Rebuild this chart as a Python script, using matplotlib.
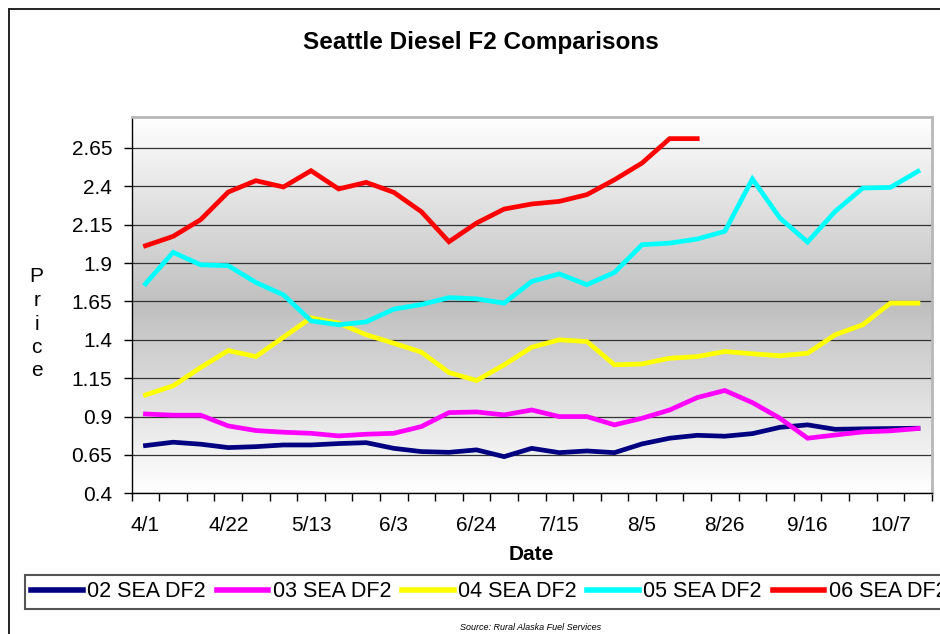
import numpy as np
import matplotlib.pyplot as plt
from matplotlib.patches import Rectangle

plt.rcParams['font.family'] = ['Liberation Sans', 'DejaVu Sans']

# weekly dates (category axis)
dates = ['4/1', '4/8', '4/15', '4/22', '4/29', '5/6', '5/13', '5/20', '5/27', '6/3',
         '6/10', '6/17', '6/24', '7/1', '7/8', '7/15', '7/22', '7/29', '8/5', '8/12',
         '8/19', '8/26', '9/2', '9/9', '9/16', '9/23', '9/30', '10/7', '10/14']

sea02 = [0.711, 0.733, 0.720, 0.698, 0.704, 0.715, 0.715, 0.724, 0.730, 0.693,
         0.672, 0.667, 0.683, 0.639, 0.693, 0.665, 0.676, 0.665, 0.722, 0.759,
         0.778, 0.772, 0.789, 0.830, 0.846, 0.817, 0.820, 0.822, 0.824]
sea03 = [0.917, 0.909, 0.909, 0.839, 0.809, 0.798, 0.791, 0.774, 0.785, 0.791,
         0.835, 0.926, 0.930, 0.911, 0.943, 0.900, 0.900, 0.846, 0.889, 0.943,
         1.024, 1.070, 0.991, 0.889, 0.759, 0.780, 0.800, 0.807, 0.822]
sea04 = [1.041, 1.100, 1.220, 1.330, 1.291, 1.417, 1.543, 1.509, 1.433, 1.378,
         1.320, 1.187, 1.135, 1.237, 1.352, 1.400, 1.389, 1.237, 1.243, 1.280,
         1.291, 1.324, 1.309, 1.296, 1.313, 1.433, 1.498, 1.639, 1.639]
sea05 = [1.765, 1.970, 1.889, 1.883, 1.774, 1.693, 1.524, 1.498, 1.517, 1.600,
         1.630, 1.675, 1.667, 1.639, 1.780, 1.830, 1.759, 1.839, 2.020, 2.030,
         2.057, 2.107, 2.448, 2.193, 2.037, 2.237, 2.389, 2.393, 2.498]
sea06 = [2.013, 2.074, 2.183, 2.363, 2.437, 2.396, 2.502, 2.383, 2.426, 2.361,
         2.235, 2.039, 2.161, 2.252, 2.285, 2.302, 2.346, 2.443, 2.552, 2.711,
         2.711]

series = [sea02, sea03, sea04, sea05, sea06]
names = ['02 SEA DF2', '03 SEA DF2', '04 SEA DF2', '05 SEA DF2', '06 SEA DF2']
colors = ['#000080', '#ff00ff', '#ffff00', '#00ffff', '#ff0000']

yticks = [0.4, 0.65, 0.9, 1.15, 1.4, 1.65, 1.9, 2.15, 2.4, 2.65]
ylabels = ['0.4', '0.65', '0.9', '1.15', '1.4', '1.65', '1.9', '2.15', '2.4', '2.65']

fig = plt.figure(figsize=(9.4, 6.34), dpi=100)
ax = fig.add_axes([0.1401, 0.2219, 0.8511, 0.5931])

# chart area border (runs off the right/bottom edge)
fig.patches.append(Rectangle((9 / 940, -0.2), 1.2, 1.2 - 9 / 634,
                             transform=fig.transFigure, fill=False,
                             edgecolor='#222222', lw=1.4, clip_on=False))

# background gradient: white at top/bottom, gray in the middle
g = np.linspace(0, 1, 256)
shade = 1 - 0.25 * (1 - np.abs(2 * g - 1))
img = np.repeat(shade[:, None], 3, axis=1)[:, None, :]
ax.imshow(img, extent=(-0.5, 28.5, 0.4, 2.85), aspect='auto', origin='lower', zorder=0)

x = np.arange(len(dates))
lines = []
for vals, nm, c in zip(series, names, colors):
    ln, = ax.plot(x[:len(vals)], vals, color=c, lw=3.4, label=nm,
                  solid_joinstyle='miter', zorder=3)
    lines.append(ln)

ax.set_xlim(-0.5, 28.5)
ax.set_ylim(0.4, 2.85)
ax.set_axisbelow(True)
ax.yaxis.grid(True, color='#333333', lw=0.9)

ax.set_xticks(x[::3])
ax.set_xticklabels(dates[::3])
ax.set_xticks(np.arange(-0.5, 29, 1), minor=True)
ax.tick_params(axis='x', which='major', length=0, pad=16, labelsize=15)
ax.tick_params(axis='x', which='minor', length=6, width=1, direction='out')
ax.set_yticks(yticks)
ax.set_yticklabels(ylabels)
ax.tick_params(axis='y', length=6, width=1, direction='out', pad=8, labelsize=15)

for s in ['left', 'bottom']:
    ax.spines[s].set_color('black')
    ax.spines[s].set_linewidth(1)
for s in ['top', 'right']:
    ax.spines[s].set_color('#b8b8b8')
    ax.spines[s].set_linewidth(2)

fig.text(481 / 940, 1 - 43 / 634, 'Seattle Diesel F2 Comparisons', ha='center',
         va='center', fontsize=17.5, fontweight='bold')
fig.text(531 / 940, 1 - 555 / 634, 'Date', ha='center', va='center',
         fontsize=15, fontweight='bold')
fig.text(36.7 / 940, 1 - 324 / 634, 'P\nr\ni\nc\ne', ha='center', va='center',
         fontsize=15, linespacing=1.3, multialignment='center')
fig.text(531 / 940, 1 - 628 / 634, 'Source: Rural Alaska Fuel Services', ha='center',
         va='center', fontsize=6.5, style='italic')

leg = fig.legend(handles=lines, loc='upper left', bbox_to_anchor=(25 / 940, 1 - 575 / 634),
                 ncol=5, handlelength=2.4, handletextpad=0.2, columnspacing=0.5,
                 fancybox=False, edgecolor='#555555', fontsize=15.5, borderpad=0.3,
                 borderaxespad=0, framealpha=1)
leg.get_frame().set_linewidth(1.5)
for h in leg.get_lines():
    h.set_linewidth(4)

plt.savefig('out.png', dpi=100)
